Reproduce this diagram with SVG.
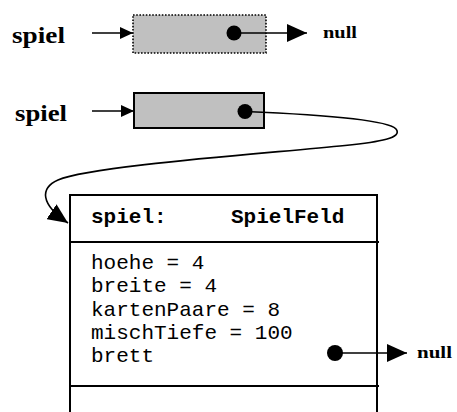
<svg xmlns="http://www.w3.org/2000/svg" width="457" height="412" viewBox="0 0 457 412">
<style>
.lbl{font-family:"Liberation Serif","Times New Roman",serif;font-weight:bold;fill:#000}
.mono{font-family:"Liberation Mono","Courier New",monospace;font-size:21px;fill:#000}
.monob{font-family:"Liberation Mono","Courier New",monospace;font-size:21px;font-weight:bold;fill:#000}
.ln{stroke:#000;stroke-width:1.6;fill:none}
.box{fill:#c0c0c0;stroke:#000;stroke-width:2}
.obj{stroke:#000;stroke-width:2;fill:none}
</style>
<defs>
<marker id="big" markerUnits="userSpaceOnUse" markerWidth="20" markerHeight="18" refX="20" refY="9" orient="auto">
<path d="M0,0 L20,9 L0,18 z" fill="#000"/>
</marker>
<marker id="small" markerUnits="userSpaceOnUse" markerWidth="13" markerHeight="12" refX="13" refY="6" orient="auto">
<path d="M0,0 L13,6 L0,12 z" fill="#000"/>
</marker>
</defs>
<g id="label1"><text class="lbl" x="12" y="43" font-size="23" textLength="53" lengthAdjust="spacingAndGlyphs">spiel</text></g>
<g id="ref1">
<rect x="133" y="15" width="133" height="38" fill="#c0c0c0" stroke="#000" stroke-width="1.6" stroke-dasharray="1.6,1.6"/>
<circle cx="234" cy="33" r="7.5" fill="#000"/>
</g>
<g id="null1"><text class="lbl" x="323" y="38" font-size="17" textLength="34" lengthAdjust="spacingAndGlyphs">null</text></g>
<g id="label2"><text class="lbl" x="15" y="120.5" font-size="23" textLength="52" lengthAdjust="spacingAndGlyphs">spiel</text></g>
<g id="ref2">
<rect class="box" x="134" y="93" width="130" height="35"/>
<circle cx="245" cy="111.5" r="7.5" fill="#000"/>
</g>
<g id="spielfeld">
<path class="obj" d="M70,412 V195 H377 V412 M70,242 H379 M70,386 H379"/>
<text class="monob" x="91" y="223">spiel:</text>
<text class="monob" x="231" y="223">SpielFeld</text>
<text class="mono" x="91" y="269.3">hoehe = 4</text>
<text class="mono" x="91" y="292.3">breite = 4</text>
<text class="mono" x="91" y="315.5">kartenPaare = 8</text>
<text class="mono" x="91" y="338.5">mischTiefe = 100</text>
<text class="mono" x="91" y="361.7">brett</text>
<circle cx="335" cy="353" r="8" fill="#000"/>
</g>
<g id="null2"><text class="lbl" x="417" y="358" font-size="17" textLength="35" lengthAdjust="spacingAndGlyphs">null</text></g>
<g id="connectors">
<path class="ln" d="M92,33 H133" marker-end="url(#small)"/>
<path class="ln" d="M234,33 H307" marker-end="url(#big)"/>
<path class="ln" d="M92,111 H134" marker-end="url(#small)"/>
<path class="ln" d="M245,111.5 C330,115 388,120 396,129 C403,138 380,142 345,145.5 C260,154 90,166 58,180 C40,188 40,204 68,223" marker-end="url(#big)"/>
<path class="ln" d="M335,353 H407" marker-end="url(#big)"/>
</g>
</svg>
